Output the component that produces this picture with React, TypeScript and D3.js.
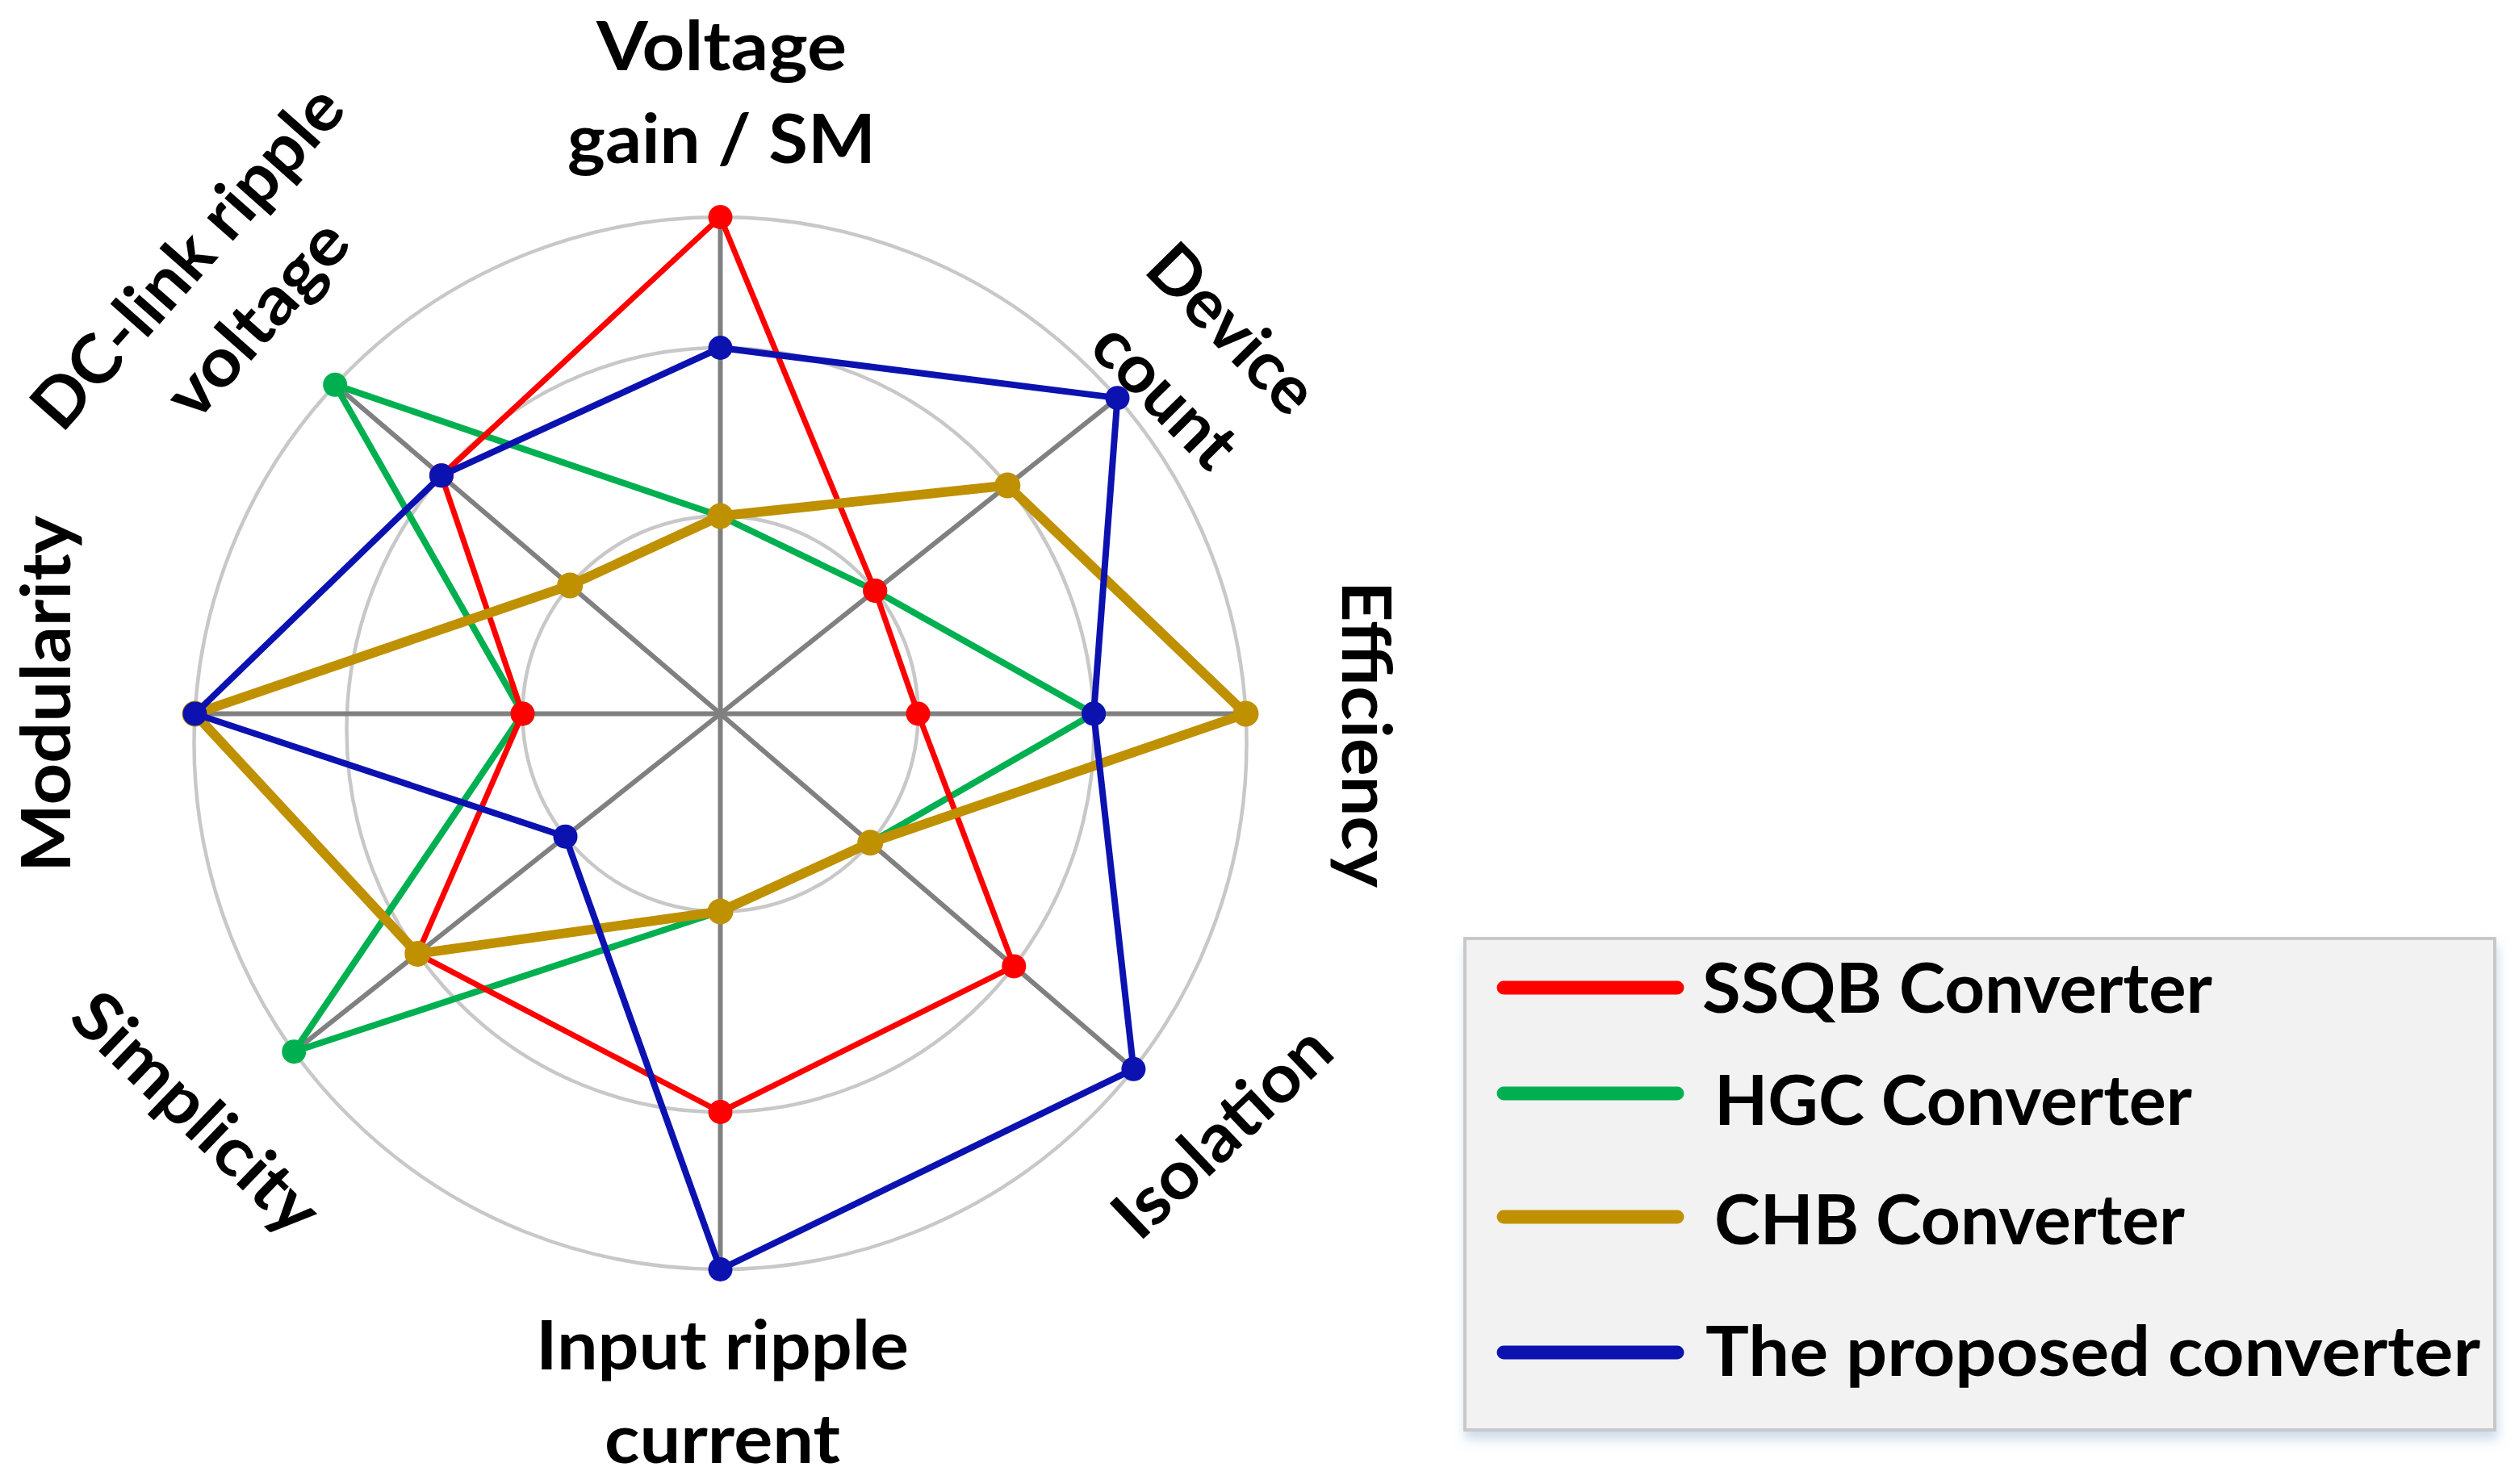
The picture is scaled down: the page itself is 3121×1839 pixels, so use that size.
import React from "react";
import * as d3 from "d3";

// ---------------- data ----------------
const CATEGORIES = [
  "Voltage gain / SM",
  "Device count",
  "Efficiency",
  "Isolation",
  "Input ripple current",
  "Simplicity",
  "Modularity",
  "DC-link ripple voltage",
];
const CATEGORY_LABEL_LINES = [
  ["Voltage", "gain / SM"],
  ["Device", "count"],
  ["Efficiency"],
  ["Isolation"],
  ["Input ripple", "current"],
  ["Simplicity"],
  ["Modularity"],
  ["DC-link ripple", "voltage"],
];
const LEVELS = [1, 2, 3];
const SERIES_NAMES = ["SSQB Converter", "HGC Converter", "CHB Converter", "The proposed converter"];
const SSQB_VALUES = [3, 1, 1, 2, 2, 2, 1, 2];
const HGC_VALUES = [1, 1, 2, 1, 1, 3, 1, 3];
const CHB_VALUES = [1, 2, 3, 1, 1, 2, 3, 1];
const PROPOSED_VALUES = [2, 3, 2, 3, 3, 1, 3, 2];

// ---------------- layout / style ----------------
const W = 3121;
const H = 1839;
const CX = 892.5;
const CY = 884.5;
const AXIS_ANGLES_DEG = [-90, -38.5, 0, 40.7, 90, 141.6, 180, 220.5];
const SERIES_COLORS = ["#ff0000", "#00b050", "#bf9000", "#0c12b0"];
const SERIES_WIDTHS = [7, 8, 12, 8];
const MARKER_R = [15, 15, 16, 15];
const DRAW_ORDER = [1, 0, 2, 3];
const FONT = "Lato, 'Open Sans', 'Noto Sans', sans-serif";

const rxScale = d3.scaleLinear().domain([0, 1, 2, 3]).range([0, 245, 463, 652]);
const ryScale = d3.scaleLinear().domain([0, 1, 2, 3]).range([0, 245, 473.5, 652]);
const offScale = d3.scaleLinear().domain([0, 1, 2, 3]).range([0, 0, 20, 36.5]);

const LABEL_LAYOUT = [
  { x: 894, y: 87, rot: 0, lens: [310, 382], lh: 115 },
  { x: 1506, y: 428, rot: 45.3, lens: [258, 216], lh: 117 },
  { x: 1663, y: 910, rot: 90, lens: [380], lh: 115 },
  { x: 1534, y: 1424, rot: -43.5, lens: [338], lh: 115 },
  { x: 895, y: 1697, rot: 0, lens: [462, 292], lh: 116 },
  { x: 223, y: 1400, rot: 44, lens: [390], lh: 115 },
  { x: 87, y: 860, rot: -90, lens: [442], lh: 115 },
  { x: 254, y: 338, rot: -48.5, lens: [535, 295], lh: 115 },
];

const LEGEND_BOX = { x: 1815, y: 1163, w: 1276, h: 609 };
const LEGEND_LINE_X = [1863, 2078];
const LEGEND_LINE_Y = [1224, 1355, 1508, 1676];
const LEGEND_TEXT_X = [2109, 2124, 2124, 2113];
const LEGEND_TEXT_Y = [1255, 1394, 1542, 1705];
const LEGEND_TEXT_LEN = [632, 592, 583, 960];

function pointAt(axis: number, value: number): [number, number] {
  const a = (AXIS_ANGLES_DEG[axis] * Math.PI) / 180;
  const dx = Math.cos(a);
  const dy = Math.sin(a);
  if (value <= 0) return [CX, CY];
  const rx = rxScale(value);
  const ry = ryScale(value);
  const off = offScale(value);
  const A = (dx * dx) / (rx * rx) + (dy * dy) / (ry * ry);
  const B = (-2 * dy * off) / (ry * ry);
  const C = (off * off) / (ry * ry) - 1;
  const t = (-B + Math.sqrt(B * B - 4 * A * C)) / (2 * A);
  return [CX + t * dx, CY + t * dy];
}

export default function App() {
  const allSeries = [SSQB_VALUES, HGC_VALUES, CHB_VALUES, PROPOSED_VALUES];
  const line = d3.line<[number, number]>().curve(d3.curveLinearClosed);
  const maxLevel = d3.max(LEVELS) as number;

  return (
    <svg
      width={W}
      height={H}
      viewBox={`0 0 ${W} ${H}`}
      style={{ position: "fixed", left: 0, top: 0, background: "#ffffff" }}
    >
      <defs>
        <filter id="legendShadow" x="-5%" y="-5%" width="110%" height="115%">
          <feDropShadow dx="2" dy="10" stdDeviation="7" floodColor="#a9bfdc" floodOpacity="0.55" />
        </filter>
      </defs>
      <rect x={0} y={0} width={W} height={H} fill="#ffffff" />

      {/* grid circles */}
      {LEVELS.map((lv) => (
        <ellipse
          key={`lv${lv}`}
          cx={CX}
          cy={CY + offScale(lv)}
          rx={rxScale(lv)}
          ry={ryScale(lv)}
          fill="none"
          stroke="#c8c8c8"
          strokeWidth={4.5}
        />
      ))}

      {/* axes */}
      {CATEGORIES.map((c, i) => {
        const [x, y] = pointAt(i, maxLevel);
        return (
          <line key={c} x1={CX} y1={CY} x2={x} y2={y} stroke="#808080" strokeWidth={6} />
        );
      })}

      {/* series */}
      {DRAW_ORDER.map((si) => {
        const pts = allSeries[si].map((v, i) => pointAt(i, v));
        return (
          <g key={SERIES_NAMES[si]}>
            <path
              d={line(pts) || ""}
              fill="none"
              stroke={SERIES_COLORS[si]}
              strokeWidth={SERIES_WIDTHS[si]}
              strokeLinejoin="round"
            />
            {pts.map((p, i) => (
              <circle key={i} cx={p[0]} cy={p[1]} r={MARKER_R[si]} fill={SERIES_COLORS[si]} />
            ))}
          </g>
        );
      })}

      {/* category labels */}
      {CATEGORY_LABEL_LINES.map((lines, i) => {
        const L = LABEL_LAYOUT[i];
        return (
          <g key={CATEGORIES[i]} transform={`translate(${L.x},${L.y}) rotate(${L.rot})`}>
            {lines.map((t, k) => (
              <text
                key={k}
                x={0}
                y={k * L.lh}
                textAnchor="middle"
                fontFamily={FONT}
                fontWeight={700}
                fontSize={84}
                fill="#000"
                textLength={L.lens[k]}
                lengthAdjust="spacingAndGlyphs"
              >
                {t}
              </text>
            ))}
          </g>
        );
      })}

      {/* legend */}
      <rect
        x={LEGEND_BOX.x}
        y={LEGEND_BOX.y}
        width={LEGEND_BOX.w}
        height={LEGEND_BOX.h}
        fill="#f2f2f2"
        stroke="#c9c9c9"
        strokeWidth={4}
        filter="url(#legendShadow)"
      />
      {SERIES_NAMES.map((name, i) => (
        <g key={name}>
          <line
            x1={LEGEND_LINE_X[0]}
            x2={LEGEND_LINE_X[1]}
            y1={LEGEND_LINE_Y[i]}
            y2={LEGEND_LINE_Y[i]}
            stroke={SERIES_COLORS[i]}
            strokeWidth={17}
            strokeLinecap="round"
          />
          <text
            x={LEGEND_TEXT_X[i]}
            y={LEGEND_TEXT_Y[i]}
            fontFamily={FONT}
            fontWeight={700}
            fontSize={86.5}
            fill="#000"
            textLength={LEGEND_TEXT_LEN[i]}
            lengthAdjust="spacingAndGlyphs"
          >
            {name}
          </text>
        </g>
      ))}
    </svg>
  );
}
